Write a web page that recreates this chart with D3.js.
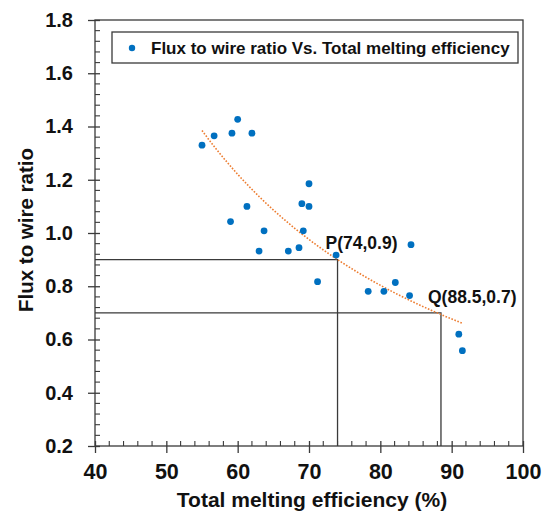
<!DOCTYPE html>
<html>
<head>
<meta charset="utf-8">
<script src="https://cdn.jsdelivr.net/npm/d3@7"></script>
<style>
  html, body { margin: 0; padding: 0; background: #fff; }
  svg { display: block; font-family: "Liberation Sans", Arial, sans-serif; }
</style>
</head>
<body>
<svg id="chart" width="547" height="519"></svg>
<script>
// Measured samples: total melting efficiency (%) and flux-to-wire ratio
const efficiency = [55.0, 56.7, 59.2, 60.0, 62.0, 61.3, 59.0, 63.7, 63.0, 67.1, 68.6, 69.0,
                    70.0, 70.0, 69.2, 73.8, 71.2, 78.3, 80.5, 82.1, 84.1, 84.3, 91.0, 91.5];
const fluxRatio  = [1.33, 1.365, 1.375, 1.427, 1.375, 1.10, 1.043, 1.008, 0.932, 0.932, 0.945, 1.11,
                    1.10, 1.185, 1.008, 0.917, 0.817, 0.781, 0.781, 0.814, 0.765, 0.956, 0.62, 0.558];

// Power-law trend line y = a * x^b and the span it is drawn over
const trendCoef = 468;
const trendExp = -1.453;
const trendSpan = [55, 91.5];

// Marked operating points
const markers = [
  { label: "P(74,0.9)", x: 74, y: 0.9 },
  { label: "Q(88.5,0.7)", x: 88.5, y: 0.7 }
];

const xTicks = [40, 50, 60, 70, 80, 90, 100];
const yTicks = [0.2, 0.4, 0.6, 0.8, 1.0, 1.2, 1.4, 1.6, 1.8];
const xDomain = [40, 100];
const yDomain = [0.2, 1.8];
const legendText = "Flux to wire ratio Vs. Total melting efficiency";
const xTitle = "Total melting efficiency (%)";
const yTitle = "Flux to wire ratio";

const svg = d3.select("#chart");
const plotLeft = 95, plotRight = 523, plotTop = 20, plotBottom = 446;

const x = d3.scaleLinear().domain(xDomain).range([plotLeft, plotRight]);
const y = d3.scaleLinear().domain(yDomain).range([plotBottom, plotTop]);

const axisColor = "#3a3a3a";

// Plot frame
svg.append("rect")
  .attr("x", plotLeft).attr("y", plotTop)
  .attr("width", plotRight - plotLeft).attr("height", plotBottom - plotTop)
  .attr("fill", "none").attr("stroke", axisColor).attr("stroke-width", 1.3);

// Minor ticks (inside)
const xMinor = d3.range(xDomain[0], xDomain[1] + 0.001, 2).filter(v => v % 10 !== 0);
const yMinor = d3.range(0, 41).map(i => yDomain[0] + i * 0.04)
  .filter(v => Math.abs(v * 5 - Math.round(v * 5)) > 1e-6);

svg.append("g").selectAll("line").data(xMinor).join("line")
  .attr("x1", d => x(d)).attr("x2", d => x(d))
  .attr("y1", plotBottom).attr("y2", plotBottom - 5)
  .attr("stroke", axisColor).attr("stroke-width", 1.1);

svg.append("g").selectAll("line").data(yMinor).join("line")
  .attr("y1", d => y(d)).attr("y2", d => y(d))
  .attr("x1", plotLeft).attr("x2", plotLeft + 5)
  .attr("stroke", axisColor).attr("stroke-width", 1.1);

// Major ticks and labels via d3 axes
const xAxis = svg.append("g")
  .attr("transform", `translate(0,${plotBottom})`)
  .call(d3.axisBottom(x).tickValues(xTicks).tickFormat(d3.format("d")).tickSizeOuter(0).tickSizeInner(7).tickPadding(11));
const yAxis = svg.append("g")
  .attr("transform", `translate(${plotLeft},0)`)
  .call(d3.axisLeft(y).tickValues(yTicks).tickFormat(d3.format(".1f")).tickSizeOuter(0).tickSizeInner(7).tickPadding(15));

[xAxis, yAxis].forEach(g => {
  g.select(".domain").remove();
  g.selectAll(".tick line").attr("stroke", axisColor).attr("stroke-width", 1.3);
  g.selectAll(".tick text")
    .attr("fill", "#111").attr("font-weight", "bold")
    .attr("font-family", "'Liberation Sans', Arial, sans-serif");
});
xAxis.selectAll(".tick text").attr("font-size", 21.5);
yAxis.selectAll(".tick text").attr("font-size", 20);

// Major ticks also poke slightly inside the frame
xAxis.selectAll(".tick").append("line")
  .attr("y1", 0).attr("y2", -5).attr("stroke", axisColor).attr("stroke-width", 1.3);
yAxis.selectAll(".tick").append("line")
  .attr("x1", 0).attr("x2", 5).attr("stroke", axisColor).attr("stroke-width", 1.3);

// Reference lines for the marked points
const refs = svg.append("g");
markers.forEach(m => {
  refs.append("path")
    .attr("d", `M${x(xDomain[0])},${y(m.y)}H${x(m.x)}V${y(yDomain[0])}`)
    .attr("fill", "none").attr("stroke", axisColor).attr("stroke-width", 1.3);
});

// Trend line
const trendX = d3.range(0, 101).map(i => trendSpan[0] + (trendSpan[1] - trendSpan[0]) * i / 100);
const line = d3.line().x(d => x(d)).y(d => y(trendCoef * Math.pow(d, trendExp)));
svg.append("path")
  .datum(trendX)
  .attr("d", line)
  .attr("fill", "none")
  .attr("stroke", "#ED7D31")
  .attr("stroke-width", 1.6)
  .attr("stroke-dasharray", "1.6,1.6");

// Data points
svg.append("g").selectAll("circle").data(efficiency).join("circle")
  .attr("cx", d => x(d))
  .attr("cy", (d, i) => y(fluxRatio[i]))
  .attr("r", 3.4)
  .attr("fill", "#0070C0");

// Point labels
const labelOffsets = [{ dx: -12, dy: -11 }, { dx: -13, dy: -10 }];
svg.append("g").selectAll("text").data(markers).join("text")
  .attr("x", (d, i) => x(d.x) + labelOffsets[i].dx)
  .attr("y", (d, i) => y(d.y) + labelOffsets[i].dy)
  .attr("font-size", 17.5).attr("font-weight", "bold").attr("fill", "#111")
  .text(d => d.label);

// Legend
const legend = svg.append("g");
legend.append("rect")
  .attr("x", 112).attr("y", 32).attr("width", 406).attr("height", 31)
  .attr("fill", "#fff").attr("stroke", axisColor).attr("stroke-width", 1.3);
legend.append("circle")
  .attr("cx", 132).attr("cy", 48).attr("r", 3.2).attr("fill", "#0070C0");
legend.append("text")
  .attr("x", 151).attr("y", 54)
  .attr("font-size", 17).attr("font-weight", "bold").attr("fill", "#111")
  .text(legendText);

// Axis titles
svg.append("text")
  .attr("x", (plotLeft + plotRight) / 2 + 3).attr("y", 507)
  .attr("text-anchor", "middle")
  .attr("font-size", 21).attr("font-weight", "bold").attr("fill", "#111")
  .text(xTitle);
svg.append("text")
  .attr("transform", `translate(33,230) rotate(-90)`)
  .attr("text-anchor", "middle")
  .attr("font-size", 20.5).attr("font-weight", "bold").attr("fill", "#111")
  .text(yTitle);
</script>
</body>
</html>
